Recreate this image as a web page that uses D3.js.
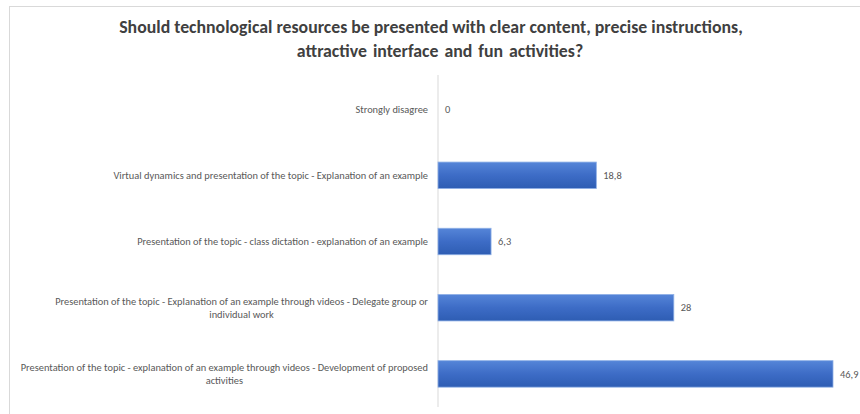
<!DOCTYPE html>
<html><head><meta charset="utf-8">
<script src="https://cdn.jsdelivr.net/npm/d3@7"></script>
<style>body{margin:0;background:#fff;}svg{display:block;}</style>
</head><body>
<svg id="c" width="860" height="414"></svg>
<script>
const titleLines = ["Should technological resources be presented with clear content, precise instructions,", "attractive interface and fun activities?"];
const categories = [
  ["Strongly disagree"],
  ["Virtual dynamics and presentation of the topic - Explanation of an example"],
  ["Presentation of the topic - class dictation - explanation of an example"],
  ["Presentation of the topic - Explanation of an example through videos - Delegate group or", "individual work"],
  ["Presentation of the topic - explanation of an example through videos - Development of proposed", "activities"]
];
const values = [0, 18.8, 6.3, 28, 46.9];
const valueLabels = ["0", "18,8", "6,3", "28", "46,9"];

const svg = d3.select("#c");
const font = "Carlito, Calibri, 'Open Sans', sans-serif";

const defs = svg.append("defs");
const g = defs.append("linearGradient").attr("id","bg").attr("x1",0).attr("y1",0).attr("x2",0).attr("y2",1);
g.append("stop").attr("offset","0%").attr("stop-color","#5585d8");
g.append("stop").attr("offset","50%").attr("stop-color","#3d6cc6");
g.append("stop").attr("offset","100%").attr("stop-color","#2e5db3");

svg.append("rect").attr("x",9.5).attr("y",6.5).attr("width",860).attr("height",420)
  .attr("fill","#fff").attr("stroke","#d9d9d9");

const title = svg.append("text").attr("text-anchor","middle").attr("font-family",font)
  .attr("font-weight","bold").attr("font-size",17.8).attr("fill","#404040");
title.selectAll("tspan").data(titleLines).join("tspan")
  .attr("x",(d,i)=> i===0 ? 431 : 440).attr("y",(d,i)=>33+i*24)
  .attr("word-spacing",(d,i)=> i===0 ? 0 : 2).text(d=>d);

const x = d3.scaleLinear().domain([0, 46.9]).range([438, 833]);
const y = d3.scaleBand().domain(d3.range(values.length)).range([76, 407]).paddingInner(0.6).paddingOuter(0.3);

svg.append("g").attr("transform","translate(438,0)")
  .call(d3.axisLeft(y).tickSize(0).tickFormat(""))
  .call(a=>a.select(".domain").attr("stroke","#d9d9d9").attr("d","M0,75V407"));

svg.append("g").selectAll("rect").data(values).join("rect")
  .attr("x", x(0)).attr("y",(d,i)=>y(i)).attr("height",y.bandwidth())
  .attr("width", d=>x(d)-x(0)).attr("fill","url(#bg)")
  .attr("stroke", d=> d>0 ? "#8fb0e6" : "none").attr("stroke-width",0.8);

const fs = 10.4;
const lab = svg.append("g").attr("font-family",font).attr("font-size",fs).attr("fill","#595959");
categories.forEach((lines,i)=>{
  const cy = y(i)+y.bandwidth()/2;
  if (lines.length===1) {
    lab.append("text").attr("text-anchor","end").attr("x",428).attr("y",cy+3.6).text(lines[0]);
  } else {
    const t = lab.append("text").attr("text-anchor","end").attr("x",428).attr("y",cy-2.6).text(lines[0]);
    const w = t.node().getComputedTextLength();
    lab.append("text").attr("text-anchor","middle").attr("x",428-w/2).attr("y",cy+10).text(lines[1]);
  }
});

svg.append("g").attr("font-family",font).attr("font-size",fs).attr("fill","#595959")
  .selectAll("text").data(values).join("text")
  .attr("x",d=>x(d)+7).attr("y",(d,i)=>y(i)+y.bandwidth()/2+3.6).text((d,i)=>valueLabels[i]);
</script>
</body></html>
